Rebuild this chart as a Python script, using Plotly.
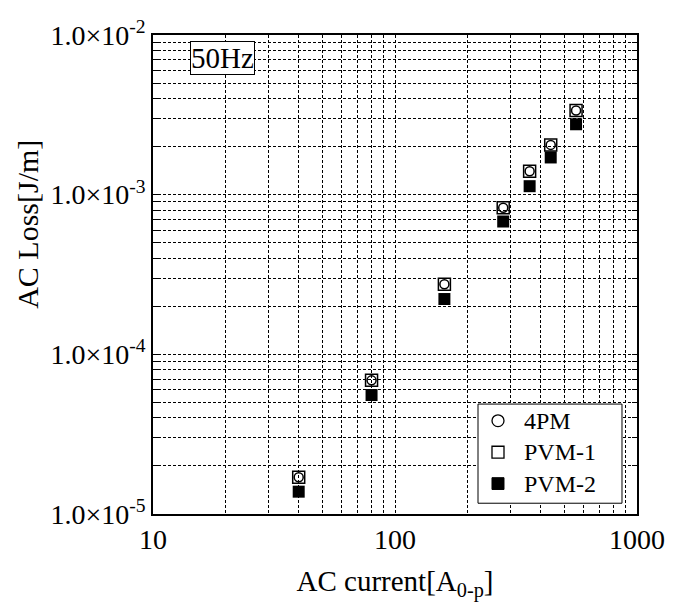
import plotly.graph_objects as go

current = [40, 80, 160, 280, 360, 440, 560]
loss_4pm = [1.70e-5, 6.87e-5, 2.75e-4, 8.28e-4, 1.40e-3, 2.05e-3, 3.37e-3]
loss_pvm1 = [1.70e-5, 6.87e-5, 2.75e-4, 8.28e-4, 1.40e-3, 2.05e-3, 3.37e-3]
loss_pvm2 = [1.38e-5, 5.56e-5, 2.22e-4, 6.79e-4, 1.13e-3, 1.71e-3, 2.76e-3]

series_names = ["4PM", "PVM-1", "PVM-2"]

x_major = [10, 100, 1000]
x_major_text = ["10", "100", "1000"]
x_minor = [m * 10 ** e for e in (1, 2) for m in range(2, 10)]
y_major = [1e-5, 1e-4, 1e-3, 1e-2]
y_major_text = ["1.0×10<sup>-5</sup>", "1.0×10<sup>-4</sup>",
                "1.0×10<sup>-3</sup>", "1.0×10<sup>-2</sup>"]
y_minor = [m * 10.0 ** e for e in (-5, -4, -3) for m in range(2, 10)]

FONT = "Liberation Serif"
GRID = dict(gridcolor="black", griddash="3px,2px", gridwidth=1)

fig = go.Figure()
fig.add_trace(go.Scatter(x=current, y=loss_pvm1, mode="markers", name=series_names[1],
                         marker=dict(symbol="square-open", size=12, color="black",
                                     line=dict(width=1.5, color="black"))))
fig.add_trace(go.Scatter(x=current, y=loss_4pm, mode="markers", name=series_names[0],
                         marker=dict(symbol="circle-open", size=9, color="black",
                                     line=dict(width=1.5, color="black"))))
fig.add_trace(go.Scatter(x=current, y=loss_pvm2, mode="markers", name=series_names[2],
                         marker=dict(symbol="square", size=12, color="black",
                                     line=dict(width=0))))

# legend box drawn by hand (compact, as in the reference)
lx0, lx1, ly0, ly1 = 0.6715, 0.969, 0.0225, 0.2295
sym_x, txt_x = 0.7128, 0.7624
rows_y = [0.1947, 0.1291, 0.0635]
hx, hy = 6 / 484, 6 / 488
shapes = [dict(type="rect", xref="paper", yref="paper", x0=lx0, x1=lx1, y0=ly0, y1=ly1,
               line=dict(color="black", width=1), fillcolor="white", layer="above")]
shapes.append(dict(type="circle", xref="paper", yref="paper",
                   x0=sym_x - hx, x1=sym_x + hx, y0=rows_y[0] - hy, y1=rows_y[0] + hy,
                   line=dict(color="black", width=1.3), fillcolor="white", layer="above"))
shapes.append(dict(type="rect", xref="paper", yref="paper",
                   x0=sym_x - hx, x1=sym_x + hx, y0=rows_y[1] - hy, y1=rows_y[1] + hy,
                   line=dict(color="black", width=1.3), fillcolor="white", layer="above"))
shapes.append(dict(type="rect", xref="paper", yref="paper",
                   x0=sym_x - hx, x1=sym_x + hx, y0=rows_y[2] - hy, y1=rows_y[2] + hy,
                   line=dict(color="black", width=1), fillcolor="black", layer="above"))

annotations = [
    dict(text="50Hz", x=0.143, y=0.951, xref="paper", yref="paper",
         showarrow=False, font=dict(family=FONT, size=29),
         bordercolor="black", borderwidth=1, borderpad=0,
         bgcolor="white", xanchor="center", yanchor="middle"),
    dict(text="AC Loss[J/m]", x=-0.258, y=0.604, xref="paper", yref="paper",
         showarrow=False, textangle=-90, font=dict(family=FONT, size=30),
         xanchor="center", yanchor="middle"),
]
for name, yy in zip(series_names, rows_y):
    annotations.append(dict(text=name, x=txt_x, y=yy, xref="paper", yref="paper",
                            showarrow=False, font=dict(family=FONT, size=24),
                            xanchor="left", yanchor="middle"))

fig.update_layout(
    width=679, height=604,
    margin=dict(l=153, r=42, t=35, b=81),
    paper_bgcolor="white", plot_bgcolor="white",
    font=dict(family=FONT, size=28, color="black"),
    showlegend=False,
    shapes=shapes,
    annotations=annotations,
)

fig.update_xaxes(type="log", range=[1, 3], tickmode="array",
                 tickvals=x_major, ticktext=x_major_text,
                 showgrid=True, **GRID,
                 minor=dict(tickmode="array", tickvals=x_minor, showgrid=True,
                            ticks="", **GRID),
                 showline=True, linecolor="black", linewidth=1.5, mirror=True,
                 ticks="",
                 tickfont=dict(family=FONT, size=28),
                 title=dict(text="AC current[A<sub>0-p</sub>]", font=dict(family=FONT, size=29),
                            standoff=16),
                 zeroline=False)
fig.update_yaxes(type="log", range=[-5, -2], tickmode="array",
                 tickvals=y_major, ticktext=y_major_text,
                 showgrid=True, **GRID,
                 minor=dict(tickmode="array", tickvals=y_minor, showgrid=True,
                            ticks="inside", ticklen=5, tickcolor="black", **GRID),
                 showline=True, linecolor="black", linewidth=1.5, mirror="ticks",
                 ticks="inside", ticklen=5, tickcolor="black",
                 tickfont=dict(family=FONT, size=28),
                 zeroline=False)

fig.write_html("out.html")
